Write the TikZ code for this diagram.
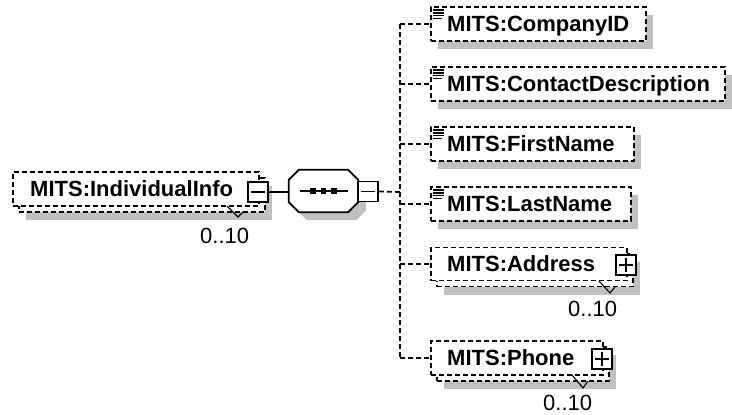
\documentclass[tikz,border=0pt]{standalone}
\usepackage{fontspec}
\setmainfont{Liberation Sans}
\usetikzlibrary{calc}
\definecolor{shadowgray}{RGB}{192,192,192}
\begin{document}
\begin{tikzpicture}[x=1pt,y=-1pt,
  dsh/.style={dash pattern=on 5pt off 3pt, line width=1.7pt},
  elbox/.style={draw, dsh, fill=white, inner sep=0pt, minimum height=34pt, anchor=west},
  shd/.style={fill=shadowgray, draw=none, inner sep=0pt, minimum height=34pt, anchor=west},
  nm/.style={font=\bfseries\fontsize{22}{26}\selectfont, inner sep=0pt, anchor=base west},
  card/.style={font=\fontsize{22}{26}\selectfont, inner sep=0pt, anchor=base west},
  pm/.style={draw, solid, line width=1.7pt, fill=white, minimum width=20pt, minimum height=20pt, inner sep=0pt},
  conn/.style={line width=1.7pt},
  cmark/.style={line width=1.1pt},
  ico/.pic={\draw[line width=1.4pt] (0,0)--(11,0) (0,2.8)--(11,2.8) (0,5.6)--(11,5.6) (0,8.4)--(9,8.4);}
]
\useasboundingbox (0,0) rectangle (732,415);

% ---------- IndividualInfo (repeated) ----------
\node[shd, minimum width=246pt] (inds) at (26,203) {};
\node[elbox, minimum width=246pt] (indb) at (18,195) {};
\node[elbox, minimum width=246pt] (ind) at (12,189) {};
\node[nm] (indt) at (30,196) {MITS:IndividualInfo};
\node[pm] (indpm) at (258,192) {};
\draw[conn] ($(indpm.west)+(4,0)$) -- ($(indpm.east)+(-4,0)$);
\draw[cmark] (227,206) -- (238,217) -- (243,212);
\node[card] (indc) at (200,243) {0..10};

% ---------- sequence compositor ----------
\node[inner sep=0pt, minimum width=69pt, minimum height=42pt] (seq) at (323.5,191) {};
\fill[shadowgray] ($(seq.north west)+(18,8)$) -- ($(seq.north east)+(-2,8)$) -- ($(seq.north east)+(8,18)$) -- ($(seq.south east)+(8,-2)$) -- ($(seq.south east)+(-2,8)$) -- ($(seq.south west)+(18,8)$) -- ($(seq.south west)+(8,-2)$) -- ($(seq.north west)+(8,18)$) -- cycle;
\draw[conn, fill=white] ($(seq.north west)+(10,0)$) -- ($(seq.north east)+(-10,0)$) -- ($(seq.north east)+(0,10)$) -- ($(seq.south east)+(0,-10)$) -- ($(seq.south east)+(-10,0)$) -- ($(seq.south west)+(10,0)$) -- ($(seq.south west)+(0,-10)$) -- ($(seq.north west)+(0,10)$) -- cycle;
\draw[conn] ($(seq.west)+(11,0)$) -- ($(seq.east)+(-10,0)$);
\foreach \i/\xx in {1/313,2/323.5,3/334}{
  \node[fill=black, inner sep=0pt, minimum size=5.5pt] (sq\i) at (\xx,191) {};
}
\node[pm] (seqpm) at (368,191.5) {};
\draw[conn] ($(seqpm.west)+(4,0)$) -- ($(seqpm.east)+(-4,0)$);
\draw[conn] (indpm.east) -- (indpm.east -| seq.west);

% ---------- children ----------
% CompanyID
\node[shd, minimum width=215pt] (cids) at (438,32) {};
\node[elbox, minimum width=215pt] (cid) at (430,24) {};
\node[nm] (cidt) at (447,31) {MITS:CompanyID};
\pic at ($(cid.north west)+(3,4)$) {ico};

% ContactDescription
\node[shd, minimum width=294pt] (cdss) at (438,92) {};
\node[elbox, minimum width=294pt] (cds) at (430,84) {};
\node[nm] (cdst) at (447,91) {MITS:ContactDescription};
\pic at ($(cds.north west)+(3,4)$) {ico};

% FirstName
\node[shd, minimum width=203pt] (fns) at (438,152) {};
\node[elbox, minimum width=203pt] (fn) at (430,144) {};
\node[nm] (fnt) at (447,151) {MITS:FirstName};
\pic at ($(fn.north west)+(3,4)$) {ico};

% LastName
\node[shd, minimum width=200pt] (lns) at (438,212) {};
\node[elbox, minimum width=200pt] (ln) at (430,204) {};
\node[nm] (lnt) at (447,211) {MITS:LastName};
\pic at ($(ln.north west)+(3,4)$) {ico};

% Address (repeated)
\node[shd, minimum width=196pt, minimum height=33pt] (ads) at (444,278) {};
\node[elbox, minimum width=196pt, minimum height=33pt] (adb) at (436,270) {};
\node[elbox, minimum width=196pt, minimum height=33pt] (ad) at (430,264) {};
\node[nm] (adt) at (447,271) {MITS:Address};
\node[pm] (adpm) at (626,265) {};
\draw[conn] ($(adpm.west)+(4,0)$) -- ($(adpm.east)+(-4,0)$);
\draw[conn] ($(adpm.north)+(0,4)$) -- ($(adpm.south)+(0,-4)$);
\draw[cmark] (599,281) -- (610,293) -- (615,287);
\node[card] (adc) at (568,316) {0..10};

% Phone (repeated)
\node[shd, minimum width=172pt] (phs) at (444,372) {};
\node[elbox, minimum width=172pt] (phb) at (436,364) {};
\node[elbox, minimum width=172pt] (ph) at (430,358) {};
\node[nm] (pht) at (447,365) {MITS:Phone};
\node[pm] (phpm) at (602,359) {};
\draw[conn] ($(phpm.west)+(4,0)$) -- ($(phpm.east)+(-4,0)$);
\draw[conn] ($(phpm.north)+(0,4)$) -- ($(phpm.south)+(0,-4)$);
\draw[cmark] (572,375) -- (583,388) -- (588,381);
\node[card] (phc) at (543,410) {0..10};

% ---------- connectors ----------
\coordinate (tr) at (400,192);
\draw[dsh] (seqpm.east) -- (tr);
\draw[dsh] (tr |- cid.west) -- (tr |- ph.west);
\foreach \n in {cid,cds,fn,ln,ad,ph}{
  \draw[dsh] (tr |- \n.west) -- (\n.west);
}
\end{tikzpicture}
\end{document}
